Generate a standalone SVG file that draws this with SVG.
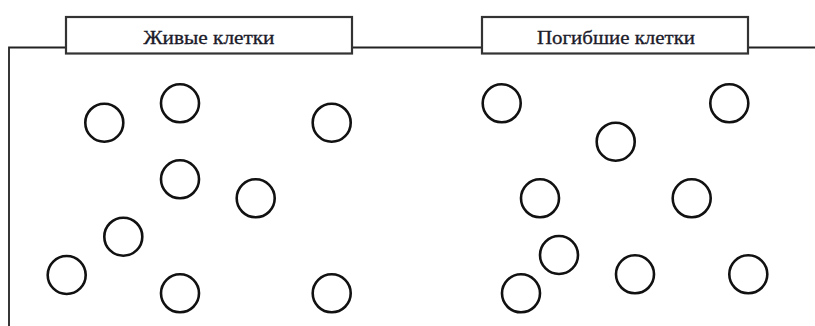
<svg xmlns="http://www.w3.org/2000/svg" width="815" height="326" viewBox="0 0 815 326">
<style>
.box{fill:#fff;stroke:#333;stroke-width:2.2}
.lbl{font-family:"Liberation Serif","Times New Roman",serif;font-size:18px;fill:#1b1b2a;stroke:#1b1b2a;stroke-width:0.3;text-anchor:middle}
.cell{fill:none;stroke:#111;stroke-width:2.6}
.conn{fill:none;stroke:#222;stroke-width:1.8}
</style>
<rect width="815" height="326" fill="#fff"/>
<g id="connectors">
<path class="conn" d="M9 326 V47.5 H66"/>
<path class="conn" d="M352 47.5 H482"/>
<path class="conn" d="M748 47.5 H815"/>
</g>
<g id="live-label">
<rect class="box" x="66" y="17" width="286" height="36.5"/>
<text class="lbl" x="209" y="44" textLength="131" lengthAdjust="spacingAndGlyphs">Живые клетки</text>
</g>
<g id="dead-label">
<rect class="box" x="482" y="17" width="266" height="36.5"/>
<text class="lbl" x="616" y="44" textLength="158" lengthAdjust="spacingAndGlyphs">Погибшие клетки</text>
</g>
<g id="live-cells">
<circle class="cell" cx="104.3" cy="122.7" r="19"/>
<circle class="cell" cx="180" cy="103.3" r="19"/>
<circle class="cell" cx="331.7" cy="122.7" r="19"/>
<circle class="cell" cx="180" cy="179.3" r="19"/>
<circle class="cell" cx="255.7" cy="198.3" r="19"/>
<circle class="cell" cx="123.3" cy="236.7" r="19"/>
<circle class="cell" cx="66.7" cy="275" r="19"/>
<circle class="cell" cx="180" cy="293.3" r="19"/>
<circle class="cell" cx="331.7" cy="293.3" r="19"/>
</g>
<g id="dead-cells">
<circle class="cell" cx="501.7" cy="103.3" r="19"/>
<circle class="cell" cx="729.3" cy="103.3" r="19"/>
<circle class="cell" cx="615.7" cy="141.7" r="19"/>
<circle class="cell" cx="540" cy="198.3" r="19"/>
<circle class="cell" cx="691.7" cy="198.3" r="19"/>
<circle class="cell" cx="559" cy="255" r="19"/>
<circle class="cell" cx="521" cy="293.3" r="19"/>
<circle class="cell" cx="635" cy="274.3" r="19"/>
<circle class="cell" cx="748.3" cy="274.3" r="19"/>
</g>
</svg>
